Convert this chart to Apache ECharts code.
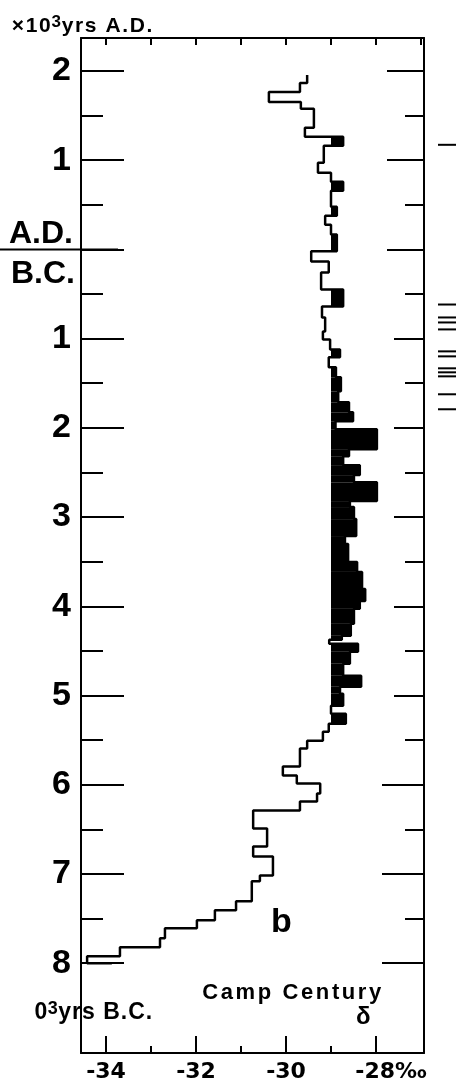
<!DOCTYPE html>
<html><head><meta charset="utf-8">
<script src="https://cdn.jsdelivr.net/npm/echarts@6/dist/echarts.min.js"></script>
<style>html,body{margin:0;padding:0;background:#fff}#c{width:460px;height:1083px}</style>
</head><body><div id="c"></div>
<script>
// ages (years; A.D. positive, B.C. negative) bounding each step of the record
const ageBounds = [1955, 1866, 1765, 1653, 1575, 1362, 1262, 1161, 971, 859, 758, 658, 479, 378, 277, 166, -20, -137, -260, -450, -640, -763, -920, -1009, -1121, -1210, -1322, -1434, -1591, -1714, -1826, -1926, -2016, -2239, -2318, -2418, -2530, -2609, -2821, -2888, -3023, -3213, -3302, -3504, -3615, -3806, -3940, -4029, -4197, -4331, -4375, -4421, -4510, -4644, -4779, -4902, -4980, -5114, -5204, -5316, -5405, -5506, -5595, -5797, -5897, -5987, -6099, -6188, -6289, -6490, -6692, -6803, -7016, -7083, -7307, -7407, -7519, -7608, -7720, -7821, -7922, -8000];
// delta 18O (per mil) held over each step
const deltaValues = [-29.53, -29.69, -30.38, -29.67, -29.38, -29.58, -28.73, -29.16, -29.29, -29.0, -28.73, -29.0, -28.87, -29.13, -29.0, -28.87, -29.44, -29.05, -29.22, -28.73, -29.2, -29.13, -29.18, -29.02, -28.8, -29.05, -28.89, -28.78, -28.84, -28.6, -28.51, -28.9, -27.98, -28.6, -28.73, -28.36, -28.49, -27.98, -28.58, -28.49, -28.44, -28.69, -28.62, -28.42, -28.31, -28.24, -28.36, -28.49, -28.56, -28.76, -29.04, -28.4, -28.58, -28.73, -28.33, -28.8, -28.73, -29.0, -28.67, -29.05, -29.18, -29.53, -29.69, -30.07, -29.76, -29.24, -29.31, -29.69, -30.73, -30.42, -30.73, -30.29, -30.58, -30.76, -31.11, -31.58, -31.98, -32.69, -32.8, -33.69, -34.42];
const tailDelta = -33.87;
const fillBaseline = -29;
// dated marks in the right-hand column (years)
const eventAges = [1172, -618, -763, -819, -897, -1143, -1199, -1333, -1378, -1423, -1624, -1792];
// axis ticks
const yMajorTicks = [-8000, -7000, -6000, -5000, -4000, -3000, -2000, -1000, 0, 1000, 2000];
const yLabelTicks = [-8000, -7000, -6000, -5000, -4000, -3000, -2000, -1000, 1000, 2000];
const yMinorTicks = [-7500, -6500, -5500, -4500, -3500, -2500, -1500, -500, 500, 1500];
const rightMajorTop = [0, 1000, 2000];
const rightMajorMid = [-5000, -4000, -3000, -2000, -1000];
const rightMajorLower = [-8000, -7000, -6000];
const xMajorTicks = [-34, -32, -30, -28];
const xMinorTicks = [-33, -31, -29];
const xTopTicks = [-34, -33, -32, -31, -30, -29, -28, -27];
const eraBoundary = [0];

const X_MIN = -34.5556, X_MAX = -26.9333;
const Y_MIN = -9006.7, Y_MAX = 2369.1;

const linePts = [];
for (let i = 0; i < deltaValues.length; i++) {
  linePts.push([deltaValues[i], ageBounds[i]]);
  linePts.push([deltaValues[i], ageBounds[i + 1]]);
}
linePts.push([tailDelta, ageBounds[ageBounds.length - 1]]);

const fillData = [];
for (let i = 0; i < deltaValues.length; i++) {
  if (deltaValues[i] > fillBaseline) fillData.push([ageBounds[i], ageBounds[i + 1], deltaValues[i]]);
}

const BLK = '#000';
const tickStyle = {color: BLK, width: 2};
function yAx(pos, ticks, len, showLine, labels) {
  return {
    type: 'value', position: pos, min: Y_MIN, max: Y_MAX,
    axisLine: {show: showLine, onZero: false, lineStyle: {color: BLK, width: 2}},
    axisTick: {show: true, inside: true, length: len, customValues: ticks, lineStyle: tickStyle},
    axisLabel: labels ? {show: true, customValues: labels, formatter: v => String(Math.abs(v / 1000)),
      fontFamily: 'Liberation Sans', fontWeight: 'bold', fontSize: 34, color: BLK, margin: 10} : {show: false},
    splitLine: {show: false}
  };
}
function xAx(pos, ticks, len, showLine, labels) {
  return {
    type: 'value', position: pos, min: X_MIN, max: X_MAX,
    axisLine: {show: showLine, onZero: false, lineStyle: {color: BLK, width: 2}},
    axisTick: {show: true, inside: true, length: len, customValues: ticks, lineStyle: tickStyle},
    axisLabel: labels ? {show: true, customValues: labels,
      formatter: v => v === -28 ? '{s|}{n|-28}{n|‰}' : '{n|' + v + '}',
      rich: {n: {fontFamily: 'DejaVu Sans', fontWeight: 'bold', fontSize: 22, color: BLK}, s: {width: 30}},
      margin: 8} : {show: false},
    splitLine: {show: false}
  };
}
function spaced(str, st) { return str.split('').map(c => '{' + st + '|' + c + '}').join(''); }

const chart = echarts.init(document.getElementById('c'), null, {renderer: 'canvas'});
chart.setOption({
  animation: false,
  backgroundColor: '#fff',
  grid: {left: 81, top: 38, width: 343, height: 1017, containLabel: false},
  xAxis: [
    xAx('bottom', xMajorTicks, 17, true, xMajorTicks),
    xAx('bottom', xMinorTicks, 7, false, null),
    xAx('top', xTopTicks, 7, true, null)
  ],
  yAxis: [
    yAx('left', yMajorTicks, 43, true, yLabelTicks),
    yAx('left', yMinorTicks, 22, false, null),
    yAx('right', rightMajorTop, 37, true, null),
    yAx('right', rightMajorMid, 30, false, null),
    yAx('right', rightMajorLower, 42, false, null),
    yAx('right', yMinorTicks, 19, false, null)
  ],
  series: [
    {
      type: 'custom', xAxisIndex: 0, yAxisIndex: 0, data: fillData, clip: true,
      renderItem: function (params, api) {
        const p1 = api.coord([fillBaseline, api.value(0)]);
        const p2 = api.coord([api.value(2), api.value(1)]);
        return {type: 'rect', shape: {x: p1[0], y: p1[1], width: p2[0] - p1[0], height: p2[1] - p1[1]}, style: {fill: BLK}};
      }
    },
    {
      type: 'line', xAxisIndex: 0, yAxisIndex: 0, data: linePts, symbol: 'none',
      lineStyle: {color: BLK, width: 2.5}, silent: true
    },
    {
      type: 'custom', xAxisIndex: 0, yAxisIndex: 0, data: eventAges.map(a => [X_MIN, a]), clip: false,
      renderItem: function (params, api) {
        const cs = params.coordSys;
        const y = api.coord([X_MIN, api.value(1)])[1];
        return {type: 'rect', shape: {x: cs.x + cs.width + 14, y: y - 1, width: 18, height: 2}, style: {fill: BLK}};
      }
    },
    {
      type: 'custom', xAxisIndex: 0, yAxisIndex: 0, data: eraBoundary.map(a => [X_MIN, a]), clip: false,
      renderItem: function (params, api) {
        const cs = params.coordSys;
        const y = api.coord([X_MIN, api.value(1)])[1];
        return {type: 'line', shape: {x1: 0, y1: y, x2: cs.x + 37, y2: y}, style: {stroke: BLK, lineWidth: 2}};
      }
    }
  ],
  graphic: [
    {type: 'text', x: 11, y: 26, style: {
      text: spaced('×10', 'a') + '{sup|3}' + spaced('yrs A.D.', 'a'), verticalAlign: 'middle', align: 'left',
      rich: {a: {fontFamily: 'Liberation Sans', fontWeight: 'bold', fontSize: 21, lineHeight: 24, padding: [0, 0.8], fill: BLK},
             sup: {fontFamily: 'Liberation Sans', fontWeight: 'bold', fontSize: 17, lineHeight: 16, verticalAlign: 'top', fill: BLK}}}},
    {type: 'text', x: 9, y: 234, style: {text: 'A.D.', font: 'bold 32px "Liberation Sans"', fill: BLK, align: 'left', verticalAlign: 'middle'}},
    {type: 'text', x: 11, y: 274, style: {text: 'B.C.', font: 'bold 32px "Liberation Sans"', fill: BLK, align: 'left', verticalAlign: 'middle'}},
    {type: 'text', x: 271, y: 923, style: {text: 'b', font: 'bold 34px "Liberation Sans"', fill: BLK, align: 'left', verticalAlign: 'middle'}},
    {type: 'text', x: 201, y: 993, style: {
      text: spaced('Camp Century', 'c'), verticalAlign: 'middle', align: 'left',
      rich: {c: {fontFamily: 'Liberation Sans', fontWeight: 'bold', fontSize: 22, padding: [0, 1.3], fill: BLK}}}},
    {type: 'text', x: 356, y: 1017, style: {text: 'δ', font: 'bold 24px "Liberation Sans"', fill: BLK, align: 'left', verticalAlign: 'middle'}},
    {type: 'text', x: 34, y: 1013, style: {
      text: '{a|0}{sup|3}' + spaced('yrs B.C.', 'a'), verticalAlign: 'middle', align: 'left',
      rich: {a: {fontFamily: 'Liberation Sans', fontWeight: 'bold', fontSize: 23, lineHeight: 26, padding: [0, 0.5], fill: BLK},
             sup: {fontFamily: 'Liberation Sans', fontWeight: 'bold', fontSize: 18, lineHeight: 17, verticalAlign: 'top', fill: BLK}}}}
  ]
});
</script></body></html>
